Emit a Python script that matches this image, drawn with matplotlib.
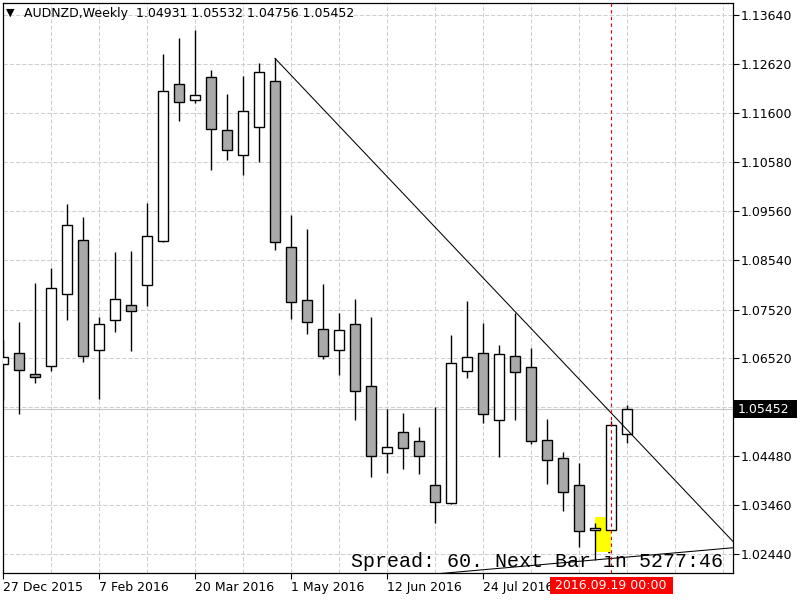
import matplotlib
matplotlib.use("Agg")
import matplotlib.pyplot as plt
import matplotlib.transforms as mtransforms
from matplotlib.patches import Rectangle

# AUDNZD weekly bars, bar 0 = week of 27 Dec 2015
opens = [1.06382, 1.06611, 1.06180, 1.06340, 1.07836, 1.08958, 1.06673, 1.07296,
         1.07608, 1.08023, 1.08938, 1.12200, 1.11868, 1.12345, 1.11244, 1.10725,
         1.11307, 1.12262, 1.08813, 1.07718, 1.07115, 1.06673, 1.07213, 1.05925,
         1.04533, 1.04969, 1.04782, 1.03868, 1.03494, 1.06236, 1.06611, 1.05218,
         1.06548, 1.06320, 1.04803, 1.04429, 1.03868, 1.02933, 1.02933, 1.04931]
highs = [1.06887, 1.07255, 1.08071, 1.08383, 1.09713, 1.09443, 1.07358, 1.08715,
         1.08736, 1.09727, 1.12830, 1.13156, 1.13322, 1.12491, 1.11998, 1.12372,
         1.12643, 1.12740, 1.09484, 1.09193, 1.08050, 1.07448, 1.07739, 1.07365,
         1.05447, 1.05364, 1.05073, 1.05488, 1.06991, 1.07697, 1.07240, 1.06777,
         1.07442, 1.06714, 1.05239, 1.04553, 1.04337, 1.03078, 1.05204, 1.05532]
lows = [1.05640, 1.05339, 1.05987, 1.06249, 1.07309, 1.06436, 1.05661, 1.07059,
        1.06665, 1.07600, 1.08920, 1.11444, 1.11818, 1.10425, 1.10633, 1.10322,
        1.10592, 1.08757, 1.07329, 1.07018, 1.06492, 1.06166, 1.05225, 1.04046,
        1.04130, 1.04213, 1.04109, 1.03091, 1.03469, 1.06091, 1.05156, 1.04462,
        1.05231, 1.04720, 1.03901, 1.03340, 1.02592, 1.02315, 1.02930, 1.04756]
closes = [1.06527, 1.06257, 1.06112, 1.07961, 1.09270, 1.06548, 1.07213, 1.07733,
          1.07483, 1.09042, 1.12055, 1.11826, 1.11971, 1.11265, 1.10829, 1.11639,
          1.12449, 1.08917, 1.07670, 1.07255, 1.06548, 1.07088, 1.05817, 1.04470,
          1.04657, 1.04636, 1.04470, 1.03514, 1.06403, 1.06527, 1.05343, 1.06590,
          1.06216, 1.04782, 1.04387, 1.03722, 1.02912, 1.02974, 1.05114, 1.05452]

date_ticks = [0, 6, 12, 18, 24, 30]
date_labels = ['27 Dec 2015', '7 Feb 2016', '20 Mar 2016', '1 May 2016',
               '12 Jun 2016', '24 Jul 2016']
price_ticks = [1.1364, 1.1262, 1.1160, 1.1058, 1.0956, 1.0854, 1.0752, 1.0652,
               1.0448, 1.0346, 1.0244]
price_labels = ['1.13640', '1.12620', '1.11600', '1.10580', '1.09560', '1.08540',
                '1.07520', '1.06520', '1.04480', '1.03460', '1.02440']
last_price = 1.05452
header = 'AUDNZD,Weekly  1.04931 1.05532 1.04756 1.05452'

# trend lines drawn on the chart (bar index, price)
down_x = [17, 45.625]
down_y = [1.1274, 1.0270]
up_x = [20, 45.625]
up_y = [1.0182, 1.0257]

# yellow rectangle object
box_x = [37, 38]
box_y = [1.02488, 1.03203]

cursor_bar = 38
cursor_label = '2016.09.19 00:00'
info_text = 'Spread: 60. Next Bar in 5277:46'

fig = plt.figure(figsize=(8, 6), dpi=100)
ax = fig.add_axes([2.7 / 800, 27 / 600, 730.3 / 800, 570 / 600])

x = list(range(len(opens)))
bottoms = [min(o, c) for o, c in zip(opens, closes)]
heights = [abs(c - o) for o, c in zip(opens, closes)]
colors = ['white' if c >= o else '#a9a9a9' for o, c in zip(opens, closes)]

ax.add_patch(Rectangle((box_x[0], box_y[0]), box_x[1] - box_x[0], box_y[1] - box_y[0],
                       facecolor='#ffff00', edgecolor='none', zorder=1.8))
ax.axhline(last_price, color='#c8c8c8', lw=0.8, zorder=1.5)

ax.vlines(x, lows, highs, color='black', lw=1.0, zorder=2)
ax.bar(x, heights, bottom=bottoms, width=0.625, color=colors,
       edgecolor='black', linewidth=1.0, zorder=3)

ax.plot(down_x, down_y, color='black', lw=0.75, zorder=4)
ax.plot(up_x, up_y, color='black', lw=0.75, zorder=4)
ax.axvline(cursor_bar, color='#e00000', lw=0.8, ls=(0, (3, 3)), zorder=5)

ax.set_xlim(-0.019, 45.625)
ax.set_ylim(1.020453, 1.138893)

# axes / grid
ax.yaxis.tick_right()
ax.set_yticks(price_ticks, price_labels)
ax.set_yticks([1.0550], minor=True)
ax.set_xticks(date_ticks, date_labels)
ax.set_xticks(range(0, 46, 3), minor=True)
ax.tick_params(which='minor', length=0)
ax.tick_params(which='major', length=4, width=0.8, labelsize=9, colors='black')
ax.tick_params(axis='y', pad=1.5)
ax.tick_params(axis='x', pad=2)
for lab in ax.get_xticklabels():
    lab.set_horizontalalignment('left')
ax.grid(which='both', color='#cfcfcf', ls=(0, (4, 2)), lw=0.75)
ax.set_axisbelow(True)
for sp in ax.spines.values():
    sp.set_linewidth(0.9)
    sp.set_color('black')

# header
ax.annotate('\u25bc', (0, 1), xycoords='axes fraction', xytext=(2.5, -7.0),
            textcoords='offset points', fontsize=8, ha='left', va='center')
ax.annotate(header, (0, 1), xycoords='axes fraction', xytext=(15.3, -7.4),
            textcoords='offset points', fontsize=9, ha='left', va='center')

# spread / timer text
ax.annotate(info_text, (1, 0), xycoords='axes fraction', xytext=(-7.4, 4.5),
            textcoords='offset points', fontsize=14.4, family='Liberation Mono',
            ha='right', va='baseline', zorder=6)

# current price label on the price scale
ytr = mtransforms.blended_transform_factory(ax.transAxes, ax.transData)
ax.add_patch(Rectangle((1.0, last_price - 0.00187), 64 / 730.3, 0.00374,
                       transform=ytr, facecolor='black', edgecolor='none',
                       clip_on=False, zorder=10))
ax.text(1.0 + 4.5 / 730.3, last_price, f'{last_price:.5f}', transform=ytr,
        color='white', fontsize=9, ha='left', va='center', clip_on=False, zorder=11)

# cursor time label on the time scale
xtr = mtransforms.blended_transform_factory(ax.transData, ax.transAxes)
ax.add_patch(Rectangle((cursor_bar - 61.5 / 16, -21 / 570), 123 / 16, 17 / 570,
                       transform=xtr, facecolor='#ff0000', edgecolor='none',
                       clip_on=False, zorder=10))
ax.text(cursor_bar, -12.5 / 570, cursor_label, transform=xtr, color='white',
        fontsize=9, ha='center', va='center', clip_on=False, zorder=11)

fig.savefig('out.png', dpi=100, facecolor='white')
